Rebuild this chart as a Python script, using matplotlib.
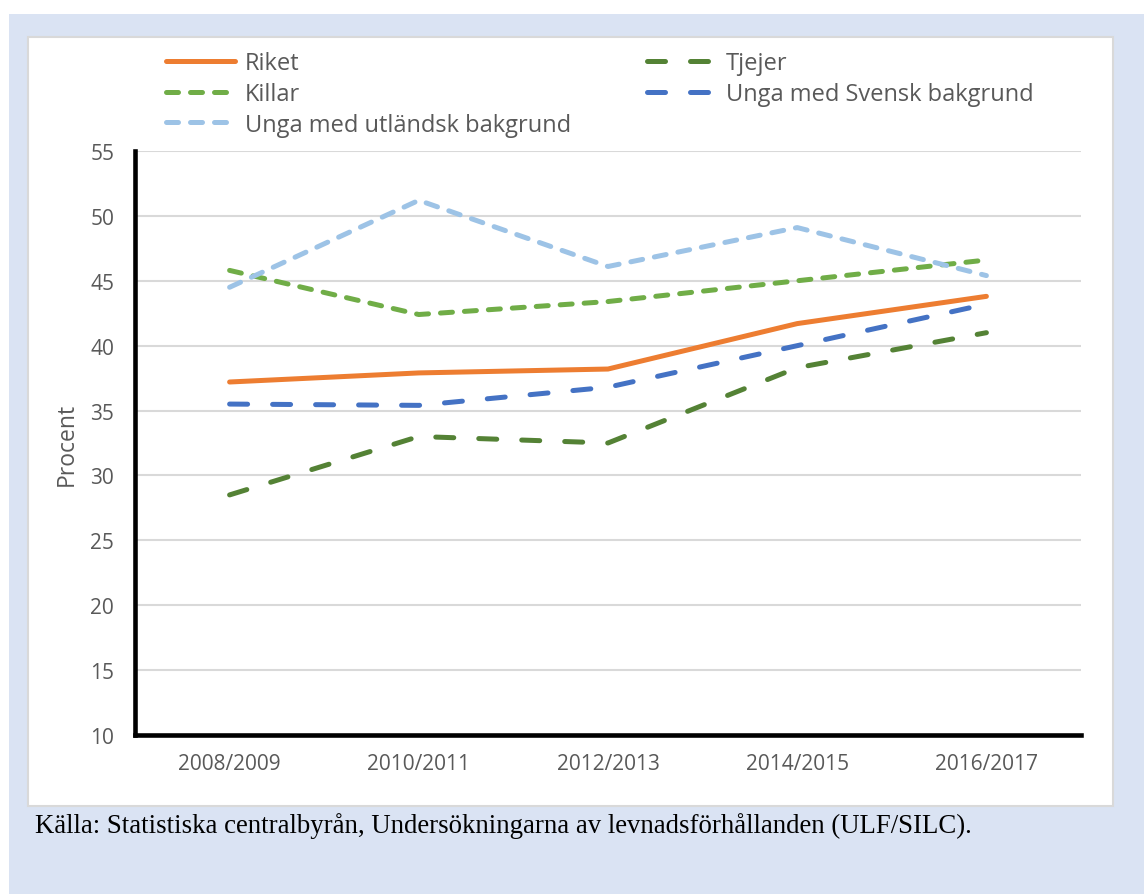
import matplotlib
matplotlib.use('Agg')
import matplotlib.pyplot as plt
from matplotlib.patches import Rectangle

perioder = ['2008/2009', '2010/2011', '2012/2013', '2014/2015', '2016/2017']
riket = [37.2, 37.9, 38.2, 41.7, 43.8]
killar = [45.8, 42.4, 43.4, 45.0, 46.6]
utlandsk = [44.5, 51.2, 46.1, 49.1, 45.4]
tjejer = [28.5, 33.0, 32.5, 38.3, 41.0]
svensk = [35.5, 35.4, 36.8, 40.0, 43.2]
yticks = [10, 15, 20, 25, 30, 35, 40, 45, 50, 55]

W, H = 1144, 895
plt.rcParams['font.family'] = ['Open Sans', 'DejaVu Sans']
grey = '#595959'

fig = plt.figure(figsize=(W / 100, H / 100), dpi=100)
fig.patch.set_facecolor('white')
# blue frame and white chart box
fig.add_artist(Rectangle((9 / W, 0), 1 - 9 / W, 1 - 15 / H, transform=fig.transFigure,
                         facecolor='#DAE3F3', edgecolor='none', zorder=0))
fig.add_artist(Rectangle((28 / W, 1 - 807 / H), (1113 - 28) / W, (807 - 38) / H,
                         transform=fig.transFigure, facecolor='white',
                         edgecolor='#D9D9D9', lw=1.5, zorder=0.5))

ax = fig.add_axes([135 / W, 1 - 736 / H, (1081 - 135) / W, (736 - 152) / H])
ax.set_facecolor('none')
ax.set_zorder(2)

x = range(len(perioder))
lw = 3.6
short = (2.4, 2.4)
long_ = (3.6, 5.0)
ax.plot(x, riket, color='#ED7D31', lw=lw, solid_capstyle='round', label='Riket')
ax.plot(x, killar, color='#70AD47', lw=lw, dashes=short, dash_capstyle='round', label='Killar')
ax.plot(x, utlandsk, color='#9DC3E6', lw=lw, dashes=short, dash_capstyle='round',
        label='Unga med utländsk bakgrund')
ax.plot(x, tjejer, color='#548235', lw=lw, dashes=long_, dash_capstyle='round', label='Tjejer')
ax.plot(x, svensk, color='#4472C4', lw=lw, dashes=long_, dash_capstyle='round',
        label='Unga med Svensk bakgrund')

ax.set_xlim(-0.5, len(perioder) - 0.5)
ax.set_ylim(10, 55)
ax.set_yticks(yticks)
ax.set_xticks(list(x))
ax.set_xticklabels(perioder)
ax.yaxis.grid(True, color='#D9D9D9', lw=1.5)
ax.set_axisbelow(True)
for s in ['top', 'right']:
    ax.spines[s].set_visible(False)
for s in ['left', 'bottom']:
    ax.spines[s].set_linewidth(3.3)
    ax.spines[s].set_color('black')
ax.tick_params(axis='both', length=0, labelsize=15, labelcolor=grey)
ax.tick_params(axis='y', pad=15)
ax.tick_params(axis='x', pad=13)
ax.set_ylabel('Procent', fontsize=16.5, color=grey, labelpad=8)

fs = 17
leg = ax.legend(loc='upper left', bbox_to_anchor=((166 - 9.4) / W, 1 - 42.5 / H),
                bbox_transform=fig.transFigure, ncol=2, frameon=False,
                fontsize=fs, handlelength=2.9, handletextpad=0.45,
                columnspacing=3.2, labelspacing=0.29, borderaxespad=0)
for t in leg.get_texts():
    t.set_color(grey)

fig.text(35 / W, 1 - 826 / H,
         'Källa: Statistiska centralbyrån, Undersökningarna av levnadsförhållanden (ULF/SILC).',
         family='Liberation Serif', fontsize=19.3, va='center', ha='left', color='black')

fig.savefig('out.png', dpi=100)
